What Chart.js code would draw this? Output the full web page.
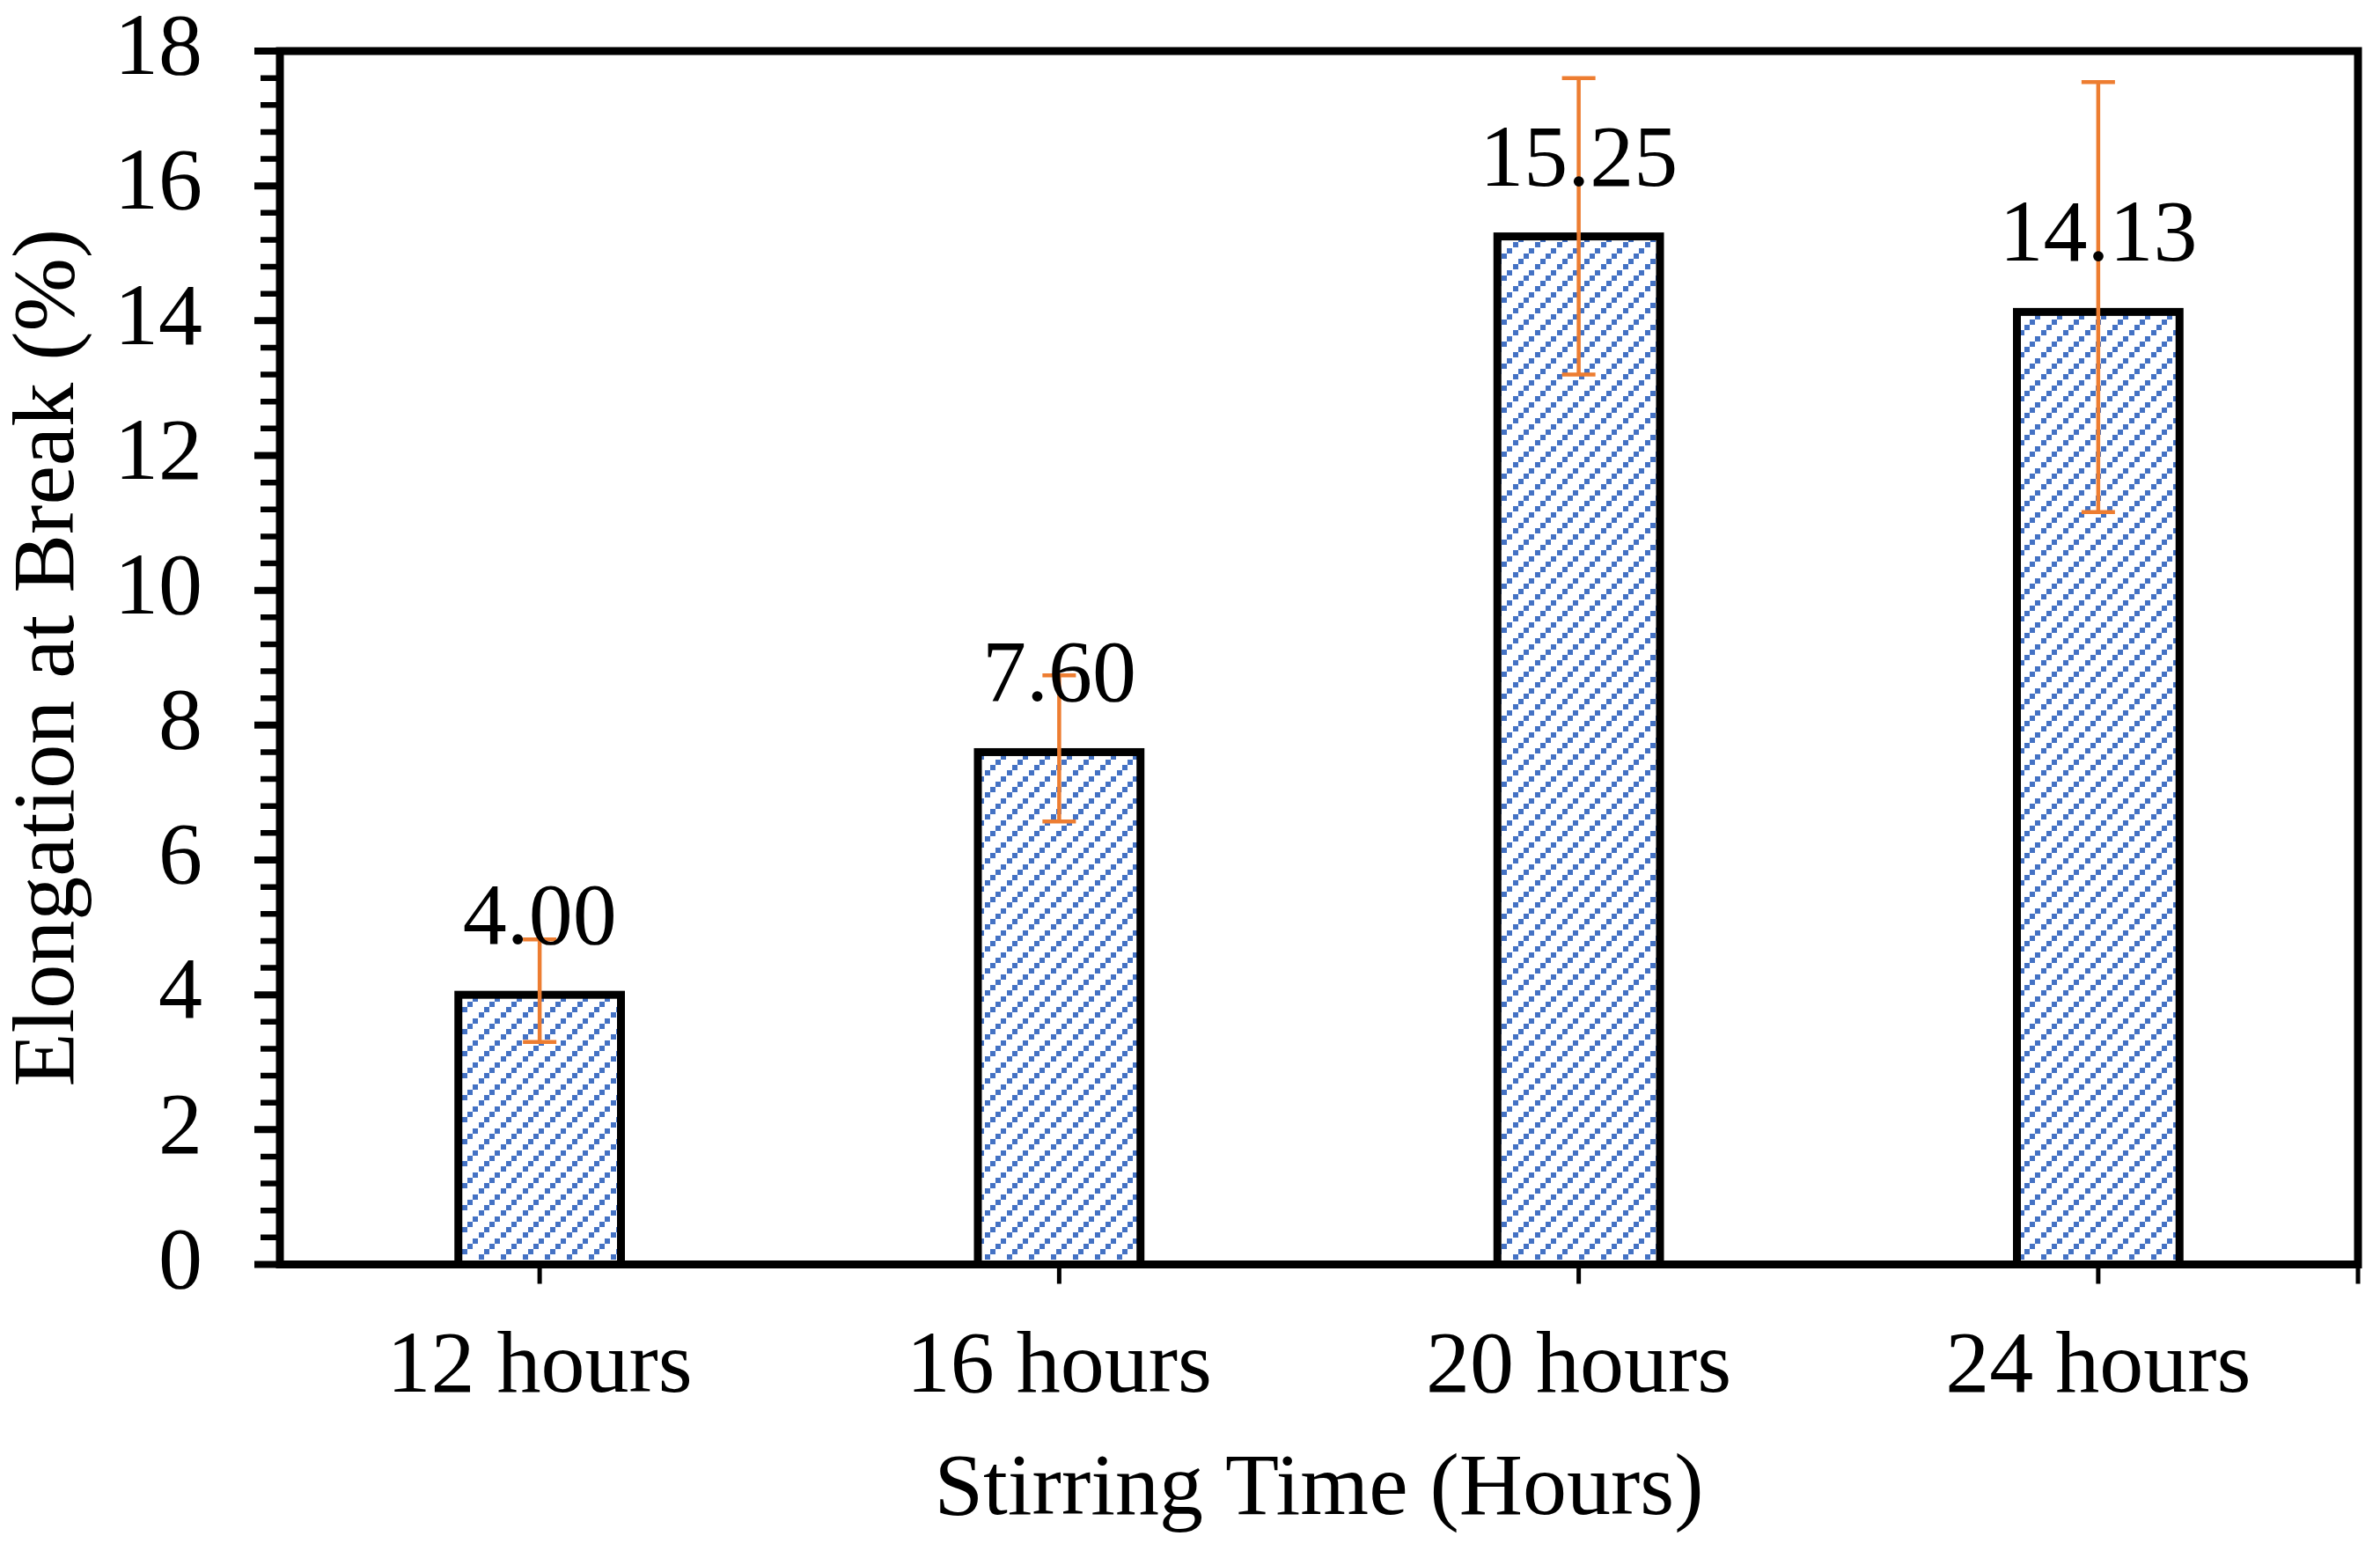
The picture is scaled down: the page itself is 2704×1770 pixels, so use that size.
<!DOCTYPE html>
<html>
<head>
<meta charset="utf-8">
<title>Elongation at Break</title>
<script src="https://cdn.jsdelivr.net/npm/chart.js@4.4.1/dist/chart.umd.min.js"></script>
<style>
    html, body { margin: 0; padding: 0; background: #fff; }
</style>
</head>
<body>
<canvas id="myChart-Elongation" width="2704" height="1770"></canvas>
<script>
// data
const categories = ['12 hours', '16 hours', '20 hours', '24 hours'];
const elongation = [4.00, 7.60, 15.25, 14.13];
const errPlus = [0.82, 1.14, 2.35, 3.41];
const errMinus = [0.70, 1.03, 2.05, 2.97];
const yTickValues = [0, 2, 4, 6, 8, 10, 12, 14, 16, 18];

const FONT = '"Liberation Serif", "Times New Roman", serif';

// small blue dashed diagonal hatch, like the Excel pattern fill
function makeHatch() {
    const c = document.createElement('canvas');
    c.width = 25;
    c.height = 25;
    const g = c.getContext('2d');
    g.fillStyle = '#ffffff';
    g.fillRect(0, 0, 25, 25);
    g.fillStyle = '#4472C4';
    const steps = [[0, 19], [6, 13], [12, 7], [19, 0]];
    steps.forEach(p => g.fillRect(p[0], p[1], 6, 6));
    return g.createPattern(c, 'repeat');
}

// frame, tick marks, bar outlines, error bars and value labels
const decorations = {
    id: 'decorations',
    afterDatasetsDraw(chart) {
        const ctx = chart.ctx;
        const area = chart.chartArea;
        const xs = chart.scales.x;
        const ys = chart.scales.y;
        const bars = chart.getDatasetMeta(0).data;

        ctx.save();

        // bar outlines
        ctx.strokeStyle = '#000';
        ctx.lineWidth = 9;
        bars.forEach(bar => {
            ctx.strokeRect(bar.x - bar.width / 2, bar.y, bar.width, bar.base - bar.y);
        });

        // error bars
        ctx.strokeStyle = '#ED7D31';
        ctx.lineWidth = 4.5;
        bars.forEach((bar, i) => {
            const yHi = ys.getPixelForValue(elongation[i] + errPlus[i]);
            const yLo = ys.getPixelForValue(elongation[i] - errMinus[i]);
            ctx.beginPath();
            ctx.moveTo(bar.x, yHi);
            ctx.lineTo(bar.x, yLo);
            ctx.moveTo(bar.x - 19, yHi);
            ctx.lineTo(bar.x + 19, yHi);
            ctx.moveTo(bar.x - 19, yLo);
            ctx.lineTo(bar.x + 19, yLo);
            ctx.stroke();
        });

        // value labels
        ctx.fillStyle = '#000';
        ctx.font = '100px ' + FONT;
        ctx.textAlign = 'center';
        ctx.textBaseline = 'alphabetic';
        bars.forEach((bar, i) => {
            ctx.fillText(elongation[i].toFixed(2), bar.x, bar.y - 58);
        });

        // plot frame
        ctx.strokeStyle = '#000';
        ctx.lineWidth = 9;
        ctx.strokeRect(area.left, area.top, area.right - area.left, area.bottom - area.top);

        // y major and minor ticks
        ctx.beginPath();
        ctx.lineWidth = 8;
        yTickValues.forEach(v => {
            const y = ys.getPixelForValue(v);
            ctx.moveTo(area.left - 29, y);
            ctx.lineTo(area.left, y);
        });
        ctx.stroke();
        ctx.beginPath();
        ctx.lineWidth = 6.5;
        for (let k = 1; k < 45; k++) {
            if (k % 5 === 0) continue;
            const y = ys.getPixelForValue(k * 0.4);
            ctx.moveTo(area.left - 22, y);
            ctx.lineTo(area.left, y);
        }
        ctx.stroke();

        // x ticks at the categories and at the right end
        ctx.beginPath();
        ctx.lineWidth = 5;
        const xt = categories.map((c, i) => xs.getPixelForValue(i));
        xt.push(area.right);
        xt.forEach(x => {
            ctx.moveTo(x, area.bottom);
            ctx.lineTo(x, area.bottom + 22);
        });
        ctx.stroke();

        ctx.restore();
    }
};

const ctx = document.getElementById('myChart-Elongation');

new Chart(ctx, {
    type: 'bar',
    data: {
        labels: categories,
        datasets: [{
            label: 'Elongation at Break (%)',
            data: elongation,
            backgroundColor: makeHatch(),
            borderWidth: 0,
            barPercentage: 0.313,
            categoryPercentage: 1
        }]
    },
    options: {
        responsive: false,
        animation: false,
        devicePixelRatio: 1,
        layout: {
            padding: { top: 58, right: 25, left: 0, bottom: 0 }
        },
        plugins: {
            legend: { display: false },
            tooltip: { enabled: false }
        },
        scales: {
            x: {
                grid: { display: false, drawTicks: false },
                border: { display: false },
                ticks: {
                    color: '#000',
                    padding: 58,
                    maxRotation: 0,
                    font: { family: FONT, size: 100 }
                },
                title: {
                    display: true,
                    text: 'Stirring Time (Hours)',
                    color: '#000',
                    padding: { top: 0, bottom: 16 },
                    font: { family: FONT, size: 100 }
                },
                afterFit(scale) {
                    scale.height = 333.5;
                    scale.paddingLeft = 0;
                    scale.paddingRight = 0;
                }
            },
            y: {
                min: 0,
                max: 18,
                grid: { display: false, drawTicks: false },
                border: { display: false },
                ticks: {
                    color: '#000',
                    padding: 88,
                    font: { family: FONT, size: 100 }
                },
                afterBuildTicks(scale) {
                    scale.ticks = yTickValues.map(v => ({ value: v }));
                },
                title: {
                    display: true,
                    text: 'Elongation at Break (%)',
                    color: '#000',
                    padding: 0,
                    font: { family: FONT, size: 100, lineHeight: 1.14 }
                },
                afterFit(scale) {
                    scale.width = 318;
                    scale.paddingTop = 0;
                    scale.paddingBottom = 0;
                }
            }
        }
    },
    plugins: [decorations]
});
</script>
</body>
</html>
